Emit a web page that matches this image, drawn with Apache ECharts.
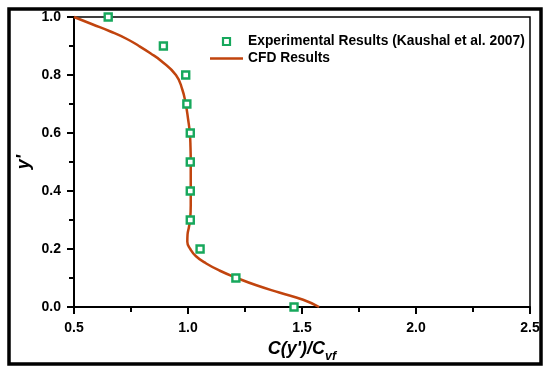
<!DOCTYPE html>
<html>
<head>
<meta charset="utf-8">
<script src="https://cdn.jsdelivr.net/npm/echarts@6/dist/echarts.min.js"></script>
<style>
html,body{margin:0;padding:0;background:#fff;}
#chart{width:550px;height:374px;}
</style>
</head>
<body>
<div id="chart"></div>
<script>
// Experimental data (Kaushal et al. 2007): C(y')/Cvf vs y'
var expX = [1.465, 1.21, 1.053, 1.01, 1.01, 1.01, 1.01, 0.995, 0.99, 0.892, 0.65];
var expY = [0.0, 0.1, 0.2, 0.3, 0.4, 0.5, 0.6, 0.7, 0.8, 0.9, 1.0];

// CFD results
var cfdX = [1.575, 1.505, 1.40, 1.30, 1.215, 1.14, 1.08, 1.035, 1.01, 0.997, 0.998, 1.004, 1.009, 1.012, 1.012, 1.012, 1.012, 1.011, 1.008, 1.0, 0.99, 0.975, 0.947, 0.88, 0.835, 0.785, 0.73, 0.66, 0.58, 0.5];
var cfdY = [0.0, 0.025, 0.05, 0.075, 0.1, 0.125, 0.15, 0.175, 0.2, 0.225, 0.25, 0.275, 0.3, 0.35, 0.4, 0.45, 0.5, 0.55, 0.6, 0.65, 0.7, 0.75, 0.8, 0.85, 0.875, 0.9, 0.925, 0.95, 0.975, 1.0];

var xTicks = [0.5, 1.0, 1.5, 2.0, 2.5];
var yTicks = [0.0, 0.2, 0.4, 0.6, 0.8, 1.0];

var seriesNames = ['Experimental Results (Kaushal et al. 2007)', 'CFD Results'];

var expData = expX.map(function (v, i) { return [v, expY[i]]; });
var cfdData = cfdX.map(function (v, i) { return [v, cfdY[i]]; });

var green = '#17a85c';
var red = '#c1440e';
var squarePath = 'path://M0,0L10,0L10,10L0,10Z';
var linePath = 'path://M0,0L100,0L100,7.5L0,7.5Z';

var chart = echarts.init(document.getElementById('chart'), null, {renderer: 'canvas'});
var option = {
  backgroundColor: '#fff',
  animation: false,
  grid: {
    left: 74, right: 20, top: 17, bottom: 67,
    show: true, borderColor: '#000', borderWidth: 1.5, backgroundColor: 'transparent'
  },
  legend: {
    orient: 'vertical',
    left: 205, top: 29.5,
    itemWidth: 33, itemHeight: 7, itemGap: 3,
    symbolKeepAspect: true,
    textStyle: {fontFamily: 'Arial, Liberation Sans', fontWeight: 'bold', fontSize: 13.8, color: '#000'},
    data: [
      {name: seriesNames[0], icon: squarePath, itemStyle: {color: '#fff', borderColor: green, borderWidth: 2.2}},
      {name: seriesNames[1], icon: linePath, itemStyle: {color: red, borderWidth: 0}}
    ]
  },
  xAxis: {
    type: 'value',
    min: xTicks[0], max: xTicks[xTicks.length - 1], interval: 0.5,
    name: '{a|C(y\')/C}{b|vf}',
    nameLocation: 'middle', nameGap: 33,
    nameTextStyle: {
      rich: {
        a: {fontFamily: 'Arial, Liberation Sans', fontWeight: 'bold', fontStyle: 'italic', fontSize: 18, color: '#000'},
        b: {fontFamily: 'Arial, Liberation Sans', fontWeight: 'bold', fontStyle: 'italic', fontSize: 12.5, color: '#000', verticalAlign: 'bottom', padding: [0, 0, -5, 0]}
      }
    },
    axisLine: {show: true, lineStyle: {color: '#000', width: 2}},
    axisTick: {show: true, inside: false, length: 7, lineStyle: {color: '#000', width: 2}},
    minorTick: {show: true, splitNumber: 2, length: 5, lineStyle: {color: '#000', width: 2}},
    splitLine: {show: false},
    axisLabel: {
      margin: 14,
      fontFamily: 'Arial, Liberation Sans', fontWeight: 'bold', fontSize: 14, color: '#000',
      formatter: function (v) { return v.toFixed(1); }
    }
  },
  yAxis: {
    type: 'value',
    min: yTicks[0], max: yTicks[yTicks.length - 1], interval: 0.2,
    name: 'y\'',
    nameLocation: 'middle', nameGap: 41,
    nameMoveOverlap: false,
    nameTextStyle: {fontFamily: 'Arial, Liberation Sans', fontWeight: 'bold', fontStyle: 'italic', fontSize: 18, color: '#000'},
    axisLine: {show: true, lineStyle: {color: '#000', width: 2}},
    axisTick: {show: true, inside: false, length: 7, lineStyle: {color: '#000', width: 2}},
    minorTick: {show: true, splitNumber: 2, length: 5, lineStyle: {color: '#000', width: 2}},
    splitLine: {show: false},
    axisLabel: {
      margin: 13,
      fontFamily: 'Arial, Liberation Sans', fontWeight: 'bold', fontSize: 14, color: '#000',
      formatter: function (v) { return v.toFixed(1); }
    }
  },
  graphic: [{
    type: 'rect',
    shape: {x: 9, y: 9, width: 532, height: 355},
    style: {fill: 'none', stroke: '#000', lineWidth: 3.5},
    silent: true, z: 100
  }],
  series: [
    {
      name: seriesNames[0],
      type: 'scatter',
      data: expData,
      symbol: squarePath,
      symbolSize: 7,
      symbolKeepAspect: true,
      itemStyle: {color: '#fff', borderColor: green, borderWidth: 2.4, opacity: 1},
      z: 5,
      clip: false
    },
    {
      name: seriesNames[1],
      type: 'line',
      data: cfdData,
      symbol: 'none',
      smooth: 0.5,
      lineStyle: {color: red, width: 2.5},
      itemStyle: {color: red},
      z: 4,
      clip: false
    }
  ]
};
chart.setOption(option);
</script>
</body>
</html>
